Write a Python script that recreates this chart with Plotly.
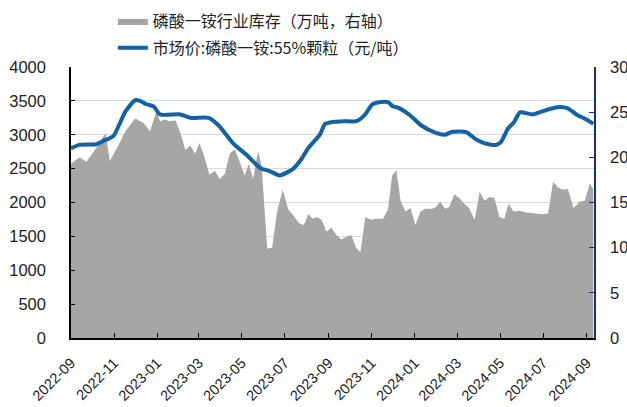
import plotly.graph_objects as go

inv_dates = ["2022-09-01","2022-09-13","2022-09-23","2022-09-30","2022-10-10","2022-10-20","2022-10-26","2022-11-05",
 "2022-11-17","2022-12-01","2022-12-13","2022-12-22","2022-12-31","2023-01-05","2023-01-12","2023-01-19","2023-01-27",
 "2023-02-03","2023-02-10","2023-02-17","2023-02-24","2023-03-02","2023-03-08","2023-03-16","2023-03-24","2023-03-31",
 "2023-04-07","2023-04-14","2023-04-21","2023-04-28","2023-05-05","2023-05-11","2023-05-17","2023-05-24","2023-05-29",
 "2023-06-06","2023-06-13","2023-06-20","2023-06-28","2023-07-06","2023-07-13","2023-07-21","2023-07-28","2023-08-03",
 "2023-08-10","2023-08-15","2023-08-22","2023-08-29","2023-09-05","2023-09-12","2023-09-19","2023-09-26","2023-10-03",
 "2023-10-10","2023-10-16","2023-10-23","2023-10-31","2023-11-07","2023-11-17","2023-11-24","2023-11-30","2023-12-06",
 "2023-12-12","2023-12-19","2023-12-26","2024-01-02","2024-01-09","2024-01-16","2024-01-26","2024-01-31","2024-02-06",
 "2024-02-13","2024-02-19","2024-02-26","2024-03-04","2024-03-11","2024-03-18","2024-03-26","2024-04-02","2024-04-09",
 "2024-04-16","2024-04-23","2024-04-30","2024-05-07","2024-05-13","2024-05-20","2024-05-29","2024-06-07","2024-06-21",
 "2024-07-01","2024-07-08","2024-07-15","2024-07-22","2024-07-29","2024-08-05","2024-08-13","2024-08-22","2024-08-29",
 "2024-09-05","2024-09-10"]
inventory = [19.3,20.0,19.5,20.3,21.4,22.7,19.6,21.0,
 22.9,24.3,23.8,22.9,25.1,24.0,24.2,24.0,24.1,
 22.7,20.8,21.3,20.4,21.6,20.3,18.1,18.5,17.6,
 18.2,20.4,20.9,19.5,18.0,19.3,17.6,20.7,19.1,
 9.9,10.0,14.0,16.4,14.2,13.6,12.7,12.5,13.7,
 13.2,13.4,13.1,11.8,12.2,11.4,10.9,11.2,11.4,
 10.0,9.5,13.4,13.1,13.2,13.2,14.2,18.0,18.6,
 15.2,14.0,14.4,12.5,14.0,14.3,14.3,14.5,15.1,
 14.3,14.5,15.9,15.5,14.9,14.4,13.1,16.2,15.2,
 15.6,15.5,13.4,13.2,14.9,14.0,14.1,13.9,13.8,
 13.7,13.8,17.3,16.7,16.4,16.5,14.4,15.1,15.2,
 17.1,16.5]

price_dates = ["2022-09-01","2022-09-13","2022-10-07","2022-10-17","2022-10-31","2022-11-17","2022-12-01","2022-12-08",
 "2022-12-17","2022-12-27","2023-01-05","2023-02-03","2023-02-17","2023-03-15","2023-03-29","2023-04-19","2023-05-08",
 "2023-05-27","2023-06-10","2023-06-24","2023-07-13","2023-07-25","2023-08-03","2023-08-20","2023-08-27","2023-09-08",
 "2023-09-22","2023-10-10","2023-10-22","2023-11-02","2023-11-12","2023-11-24","2023-12-01","2023-12-08","2023-12-25",
 "2024-01-10","2024-01-30","2024-02-13","2024-02-22","2024-03-14","2024-03-28","2024-04-11","2024-04-25","2024-05-02",
 "2024-05-12","2024-05-21","2024-05-29","2024-06-16","2024-07-01","2024-07-10","2024-07-24","2024-08-05","2024-08-17",
 "2024-09-01","2024-09-10"]
price = [2800,2850,2860,2910,2980,3340,3510,3500,
 3450,3420,3300,3300,3250,3250,3140,2870,2700,
 2510,2460,2400,2500,2650,2800,3010,3160,3190,
 3200,3200,3290,3450,3480,3480,3420,3400,3290,
 3140,3030,3000,3040,3040,2930,2870,2850,2890,
 3090,3190,3330,3300,3350,3380,3410,3390,3300,
 3220,3160]

tick_vals = ["2022-09-01","2022-11-01","2023-01-01","2023-03-01","2023-05-01","2023-07-01","2023-09-01",
 "2023-11-01","2024-01-01","2024-03-01","2024-05-01","2024-07-01","2024-09-01"]
tick_text = ["2022-09","2022-11","2023-01","2023-03","2023-05","2023-07","2023-09",
 "2023-11","2024-01","2024-03","2024-05","2024-07","2024-09"]

cjk = "Noto Sans CJK SC"
num = "Liberation Sans"

fig = go.Figure()
fig.add_trace(go.Scatter(
    x=inv_dates, y=inventory, name="磷酸一铵行业库存（万吨，右轴）",
    mode="lines", fill="tozeroy", fillcolor="#a6a6a6",
    line=dict(color="#a6a6a6", width=0), yaxis="y", legendgroup="a"))
fig.add_trace(go.Scatter(
    x=price_dates, y=price, name="市场价:磷酸一铵:55%颗粒（元/吨）",
    mode="lines", line=dict(color="#1462a3", width=4, shape="spline", smoothing=0.6),
    yaxis="y2", legendgroup="b"))

fig.update_layout(
    width=627, height=407,
    margin=dict(l=71, r=33, t=67, b=69, autoexpand=False),
    paper_bgcolor="white", plot_bgcolor="white",
    font=dict(family=num, size=15, color="#222"),
    showlegend=True,
    legend=dict(x=0.080, y=1.2325, xanchor="left", yanchor="top",
                font=dict(family=cjk, size=16, color="#222"),
                traceorder="grouped", tracegroupgap=3,
                itemwidth=30, bgcolor="rgba(0,0,0,0)"),
    xaxis=dict(type="date", range=["2022-09-01", "2024-09-11"],
               tickvals=tick_vals, ticktext=tick_text, tickangle=-45,
               ticks="inside", ticklen=5, tickcolor="#000", automargin=False,
               ticklabelstandoff=9,
               showline=True, linecolor="#000", linewidth=1.5,
               showgrid=False, tickfont=dict(family=num, size=14.5, color="#222")),
    yaxis=dict(side="right", range=[0, 30], dtick=5, showgrid=False, automargin=False,
               showline=True, linecolor="#1f2f6e", linewidth=1.5,
               ticks="inside", ticklen=5, tickcolor="#1f2f6e", ticklabelstandoff=11,
               tickfont=dict(family=num, size=16.5, color="#222"), zeroline=False),
    yaxis2=dict(side="left", overlaying="y", range=[0, 4000], dtick=500, automargin=False,
                showgrid=True, gridcolor="#d9d9d9", gridwidth=1,
                showline=True, linecolor="#000", linewidth=1.5,
                ticks="inside", ticklen=4, tickcolor="#000", ticklabelstandoff=20,
                tickfont=dict(family=num, size=16.5, color="#222"), zeroline=False),
)

fig.write_html("out.html", config={"displayModeBar": False},
               post_script="document.body.style.margin='0';document.body.style.overflow='hidden';")
